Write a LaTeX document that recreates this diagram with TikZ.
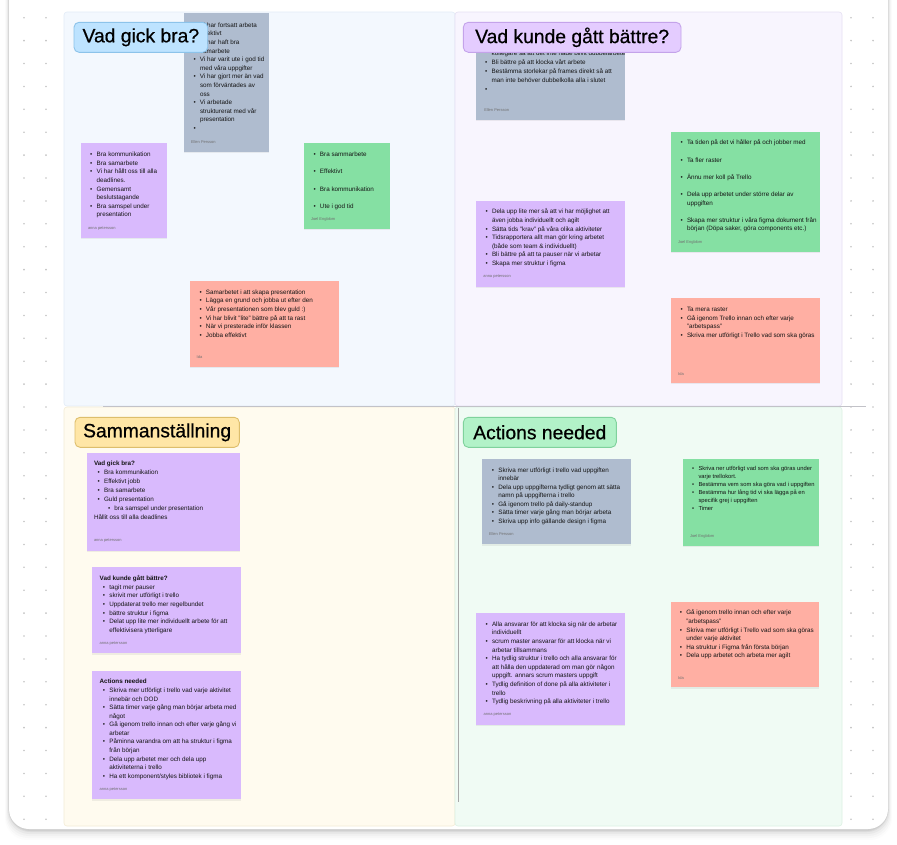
\documentclass[tikz,border=0pt]{standalone}
\usepackage{fontspec}
\setmainfont{Liberation Sans}
\newfontfamily\titlefont[FakeBold=0.6]{Liberation Sans}
\usetikzlibrary{shadows}
\definecolor{cBgTL}{HTML}{F3F8FE}
\definecolor{cBgTR}{HTML}{F8F5FE}
\definecolor{cBgBL}{HTML}{FFFBEF}
\definecolor{cBgBR}{HTML}{F0FBF4}
\definecolor{cBdTL}{HTML}{E2ECF7}
\definecolor{cBdTR}{HTML}{E6E0F3}
\definecolor{cBdBL}{HTML}{F3ECD6}
\definecolor{cBdBR}{HTML}{DCF2E3}
\definecolor{cPurple}{HTML}{D9BAFD}
\definecolor{cGreen}{HTML}{85E0A3}
\definecolor{cGray}{HTML}{AFBCCF}
\definecolor{cSalmon}{HTML}{FFAFA3}
\definecolor{cTblue}{HTML}{BDE3FF}
\definecolor{cTblueB}{HTML}{8CC3EA}
\definecolor{cTpurple}{HTML}{E4CCFF}
\definecolor{cTpurpleB}{HTML}{C4A3EA}
\definecolor{cTyellow}{HTML}{FFE6A6}
\definecolor{cTyellowB}{HTML}{DDBE6C}
\definecolor{cTgreen}{HTML}{B2F2C8}
\definecolor{cTgreenB}{HTML}{7FD29C}
\definecolor{cText}{HTML}{141414}
\definecolor{cAuthor}{HTML}{707070}
\definecolor{cDot}{HTML}{C4C4C4}
\definecolor{cDivider}{HTML}{C2C2C8}
\definecolor{cVline}{HTML}{A8A8A8}
\newcommand\Bu[1]{\strut\makebox[6.5pt][l]{\textbullet}#1}
\newcommand\Co[1]{\strut\hspace*{6.5pt}#1}
\begin{document}
\begin{tikzpicture}[x=1pt,y=-1pt,
  quad/.style={anchor=north west, rectangle, rounded corners=3pt, inner sep=0pt, outer sep=0pt, line width=0.6pt},
  sticky/.style={anchor=north west, rectangle, inner sep=0pt, outer sep=0pt, draw=none,
    drop shadow={shadow xshift=0pt, shadow yshift=-1.2pt, opacity=0.12}},
  ntext/.style={anchor=north west, inner sep=0pt, outer sep=0pt, align=left, text=cText,
    font=\fontsize{6.3}{8.6}\selectfont},
  author/.style={anchor=west, inner sep=0pt, outer sep=0pt, text=cAuthor, font=\fontsize{4}{5}\selectfont},
  titlebox/.style={anchor=north west, rectangle, rounded corners=5pt, inner sep=0pt, outer sep=0pt,
    minimum height=30pt, line width=0.9pt, text=black, font=\titlefont\fontsize{19.3}{21}\selectfont},
  divider/.style={draw=cDivider, line width=1.1pt},
  vline/.style={draw=cVline, line width=0.7pt}
]
\useasboundingbox (0,0) rectangle (897,844);
\fill[white] (0,0) rectangle (897,844);

% card with soft shadow
\foreach \k/\o in {10/0.012,8/0.018,6/0.025,4/0.035,2/0.05,1/0.06}{
  \fill[black, opacity=\o, rounded corners=22pt] ({9-0.4*\k},-30) rectangle ({888+0.4*\k},{830+\k});
}
\fill[white, rounded corners=20pt] (9,-30) rectangle (888,829);

% grid dots
\foreach \r in {0,...,35}{
  \foreach \cx in {24,46,851,873}{
    \fill[cDot] (\cx,{17.7+22.9*\r}) circle (0.9);
  }
}

% quadrants
\node[quad, fill=cBgTL, draw=cBdTL, minimum width=391pt, minimum height=394pt] (qTL) at (64,12) {};
\node[quad, fill=cBgTR, draw=cBdTR, minimum width=387pt, minimum height=394pt] (qTR) at (455,12) {};
\node[quad, fill=cBgBL, draw=cBdBL, minimum width=391pt, minimum height=419pt] (qBL) at (64,407) {};
\node[quad, fill=cBgBR, draw=cBdBR, minimum width=387pt, minimum height=419pt] (qBR) at (455,407) {};

% divider lines
\coordinate (hA) at (103,406.5);
\coordinate (hB) at (866,406.5);
\draw[divider] (hA) -- (hB);
\coordinate (vA) at (458,408);
\coordinate (vB) at (458,802);
\draw[vline] (vA) -- (vB);

% ---------- sticky notes ----------
\node[sticky, fill=cGray,   minimum width=85pt,    minimum height=139pt]  (nTLg)  at (184,13) {};
\node[sticky, fill=cPurple, minimum width=85.7pt,  minimum height=94.4pt] (nTLp)  at (81,143.3) {};
\node[sticky, fill=cGreen,  minimum width=85.7pt,  minimum height=85.7pt] (nTLgr) at (304.3,143.3) {};
\node[sticky, fill=cSalmon, minimum width=149pt,   minimum height=85.7pt] (nTLs)  at (190,281) {};
\node[sticky, fill=cGray,   minimum width=149pt,   minimum height=90pt]   (nTRg)  at (476,30) {};
\node[sticky, fill=cGreen,  minimum width=149pt,   minimum height=120pt]  (nTRgr) at (670.7,132) {};
\node[sticky, fill=cPurple, minimum width=148.7pt, minimum height=85.7pt] (nTRp)  at (476.3,201) {};
\node[sticky, fill=cSalmon, minimum width=149.3pt, minimum height=85.3pt] (nTRs)  at (670.7,297.7) {};
\node[sticky, fill=cPurple, minimum width=153.6pt, minimum height=98pt]   (nBLp1) at (86.7,452.7) {};
\node[sticky, fill=cPurple, minimum width=148.7pt, minimum height=86pt]   (nBLp2) at (92.3,567.3) {};
\node[sticky, fill=cPurple, minimum width=148.7pt, minimum height=128.3pt] (nBLp3) at (92.3,671) {};
\node[sticky, fill=cGray,   minimum width=148.7pt, minimum height=85.6pt] (nBRg)  at (482,458.7) {};
\node[sticky, fill=cGreen,  minimum width=136pt,   minimum height=87pt]   (nBRgr) at (683.3,458.7) {};
\node[sticky, fill=cPurple, minimum width=148.7pt, minimum height=111.7pt] (nBRp) at (476.3,613.3) {};
\node[sticky, fill=cSalmon, minimum width=148.6pt, minimum height=85pt]   (nBRs)  at (670.7,602.3) {};

% ---------- note texts ----------
\node[ntext] (tTLg) at (193.5,21.3) {\Bu{Vi har fortsatt arbeta}\\ \Co{effektivt}\\ \Bu{Vi har haft bra}\\ \Co{samarbete}\\ \Bu{Vi har varit ute i god tid}\\ \Co{med våra uppgifter}\\ \Bu{Vi har gjort mer än vad}\\ \Co{som förväntades av}\\ \Co{oss}\\ \Bu{Vi arbetade}\\ \Co{strukturerat med vår}\\ \Co{presentation}\\ \Bu{}};
\node[author] (aTLg) at (191,141.7) {Ellen Persson};

\node[ntext] (tTLp) at (90.2,150.6) {\Bu{Bra kommunikation}\\ \Bu{Bra samarbete}\\ \Bu{Vi har hållt oss till alla}\\ \Co{deadlines.}\\ \Bu{Gemensamt}\\ \Co{beslutstagande}\\ \Bu{Bra samspel under}\\ \Co{presentation}};
\node[author] (aTLp) at (88,228.3) {anna petersson};

\node[ntext] (tTLgr) at (313.5,150.6) {\Bu{Bra sammarbete}\\ \strut\\ \Bu{Effektivt}\\ \strut\\ \Bu{Bra kommunikation}\\ \strut\\ \Bu{Ute i god tid}};
\node[author] (aTLgr) at (311,219.3) {Joel Engblom};

\node[ntext] (tTLs) at (199.5,288.3) {\Bu{Samarbetet i att skapa presentation}\\ \Bu{Lägga en grund och jobba ut efter den}\\ \Bu{Vår presentationen som blev guld :)}\\ \Bu{Vi har blivit "lite" bättre på att ta rast}\\ \Bu{När vi presterade inför klassen}\\ \Bu{Jobba effektivt}};
\node[author] (aTLs) at (196.7,357.3) {Ida};

\node[ntext, font=\fontsize{6.3}{8.9}\selectfont] (tTRg) at (485.2,49.3) {\Co{kollegare så att det inte hade blivit dubbelarbete}\\ \Bu{Bli bättre på att klocka vårt arbete}\\ \Bu{Bestämma storlekar på frames direkt så att}\\ \Co{man inte behöver dubbelkolla alla i slutet}\\ \Bu{}};
\node[author] (aTRg) at (484.3,110) {Ellen Persson};

\node[ntext] (tTRgr) at (680.5,138.9) {\Bu{Ta tiden på det vi håller på och jobber med}\\ \strut\\ \Bu{Ta fler raster}\\ \strut\\ \Bu{Ännu mer koll på Trello}\\ \strut\\ \Bu{Dela upp arbetet under större delar av}\\ \Co{uppgiften}\\ \strut\\ \Bu{Skapa mer struktur i våra figma dokument från}\\ \Co{början (Döpa saker, göra components etc.)}};
\node[author] (aTRgr) at (678,242.3) {Joel Engblom};

\node[ntext] (tTRp) at (485.5,207.9) {\Bu{Dela upp lite mer så att vi har möjlighet att}\\ \Co{även jobba individuellt och agilt}\\ \Bu{Sätta tids "krav" på våra olika aktiviteter}\\ \Bu{Tidsrapportera allt man gör kring arbetet}\\ \Co{(både som team \& individuellt)}\\ \Bu{Bli bättre på att ta pauser när vi arbetar}\\ \Bu{Skapa mer struktur i figma}};
\node[author] (aTRp) at (483.3,276.7) {anna petersson};

\node[ntext] (tTRs) at (680.5,305.6) {\Bu{Ta mera raster}\\ \Bu{Gå igenom Trello innan och efter varje}\\ \Co{"arbetspass"}\\ \Bu{Skriva mer utförligt i Trello vad som ska göras}};
\node[author] (aTRs) at (678.3,374) {Ida};

\node[ntext, font=\fontsize{6.3}{9}\selectfont] (tBLp1) at (94,459.6) {\strut\textbf{Vad gick bra?}\\ \hspace*{3.6pt}\Bu{Bra kommunikation}\\ \hspace*{3.6pt}\Bu{Effektivt jobb}\\ \hspace*{3.6pt}\Bu{Bra samarbete}\\ \hspace*{3.6pt}\Bu{Guld presentation}\\ \hspace*{14pt}\Bu{bra samspel under presentation}\\ \strut Hållit oss till alla deadlines};
\node[author] (aBLp1) at (94,540.7) {anna petersson};

\node[ntext, font=\fontsize{6.3}{8.67}\selectfont] (tBLp2) at (99.7,574.3) {\strut\textbf{Vad kunde gått bättre?}\\ \hspace*{3.2pt}\Bu{tagit mer pauser}\\ \hspace*{3.2pt}\Bu{skrivit mer utförligt i trello}\\ \hspace*{3.2pt}\Bu{Uppdaterat trello mer regelbundet}\\ \hspace*{3.2pt}\Bu{bättre struktur i figma}\\ \hspace*{3.2pt}\Bu{Delat upp lite mer individuellt arbete för att}\\ \hspace*{3.2pt}\Co{effektivisera ytterligare}};
\node[author] (aBLp2) at (99.7,643.3) {anna petersson};

\node[ntext, font=\fontsize{6.3}{8.58}\selectfont] (tBLp3) at (99.7,677.9) {\strut\textbf{Actions needed}\\ \hspace*{3.2pt}\Bu{Skriva mer utförligt i trello vad varje aktivitet}\\ \hspace*{3.2pt}\Co{innebär och DOD}\\ \hspace*{3.2pt}\Bu{Sätta timer varje gång man börjar arbeta med}\\ \hspace*{3.2pt}\Co{något}\\ \hspace*{3.2pt}\Bu{Gå igenom trello innan och efter varje gång vi}\\ \hspace*{3.2pt}\Co{arbetar}\\ \hspace*{3.2pt}\Bu{Påminna varandra om att ha struktur i figma}\\ \hspace*{3.2pt}\Co{från början}\\ \hspace*{3.2pt}\Bu{Dela upp arbetet mer och dela upp}\\ \hspace*{3.2pt}\Co{aktiviteterna i trello}\\ \hspace*{3.2pt}\Bu{Ha ett komponent/styles bibliotek i figma}};
\node[author] (aBLp3) at (99.7,789.7) {anna petersson};

\node[ntext, font=\fontsize{6.3}{8.5}\selectfont] (tBRg) at (491.8,466.3) {\Bu{Skriva mer utförligt i trello vad uppgiften}\\ \Co{innebär}\\ \Bu{Dela upp uppgifterna tydligt genom att sätta}\\ \Co{namn på uppgifterna i trello}\\ \Bu{Gå igenom trello på daily-standup}\\ \Bu{Sätta timer varje gång man börjar arbeta}\\ \Bu{Skriva upp info gällande design i figma}};
\node[author] (aBRg) at (489,534) {Ellen Persson};

\node[ntext, font=\fontsize{5.8}{7.9}\selectfont] (tBRgr) at (692,465) {\Bu{Skriva ner utförligt vad som ska göras under}\\ \Co{varje trellokort.}\\ \Bu{Bestämma vem som ska göra vad i uppgiften}\\ \Bu{Bestämma hur lång tid vi ska lägga på en}\\ \Co{specifik grej i uppgiften}\\ \Bu{Timer}};
\node[author] (aBRgr) at (690,536.7) {Joel Engblom};

\node[ntext] (tBRp) at (485.5,620.3) {\Bu{Alla ansvarar för att klocka sig när de arbetar}\\ \Co{individuellt}\\ \Bu{scrum master ansvarar för att klocka när vi}\\ \Co{arbetar tillsammans}\\ \Bu{Ha tydlig struktur i trello och alla ansvarar för}\\ \Co{att hålla den uppdaterad om man gör någon}\\ \Co{uppgift. annars scrum masters uppgift}\\ \Bu{Tydlig definition of done på alla aktiviteter i}\\ \Co{trello}\\ \Bu{Tydlig beskrivning på alla aktiviteter i trello}};
\node[author] (aBRp) at (483.7,715) {anna petersson};

\node[ntext] (tBRs) at (679.8,608.9) {\Bu{Gå igenom trello innan och efter varje}\\ \Co{"arbetspass"}\\ \Bu{Skriva mer utförligt i Trello vad som ska göras}\\ \Co{under varje aktivitet}\\ \Bu{Ha struktur i Figma från första början}\\ \Bu{Dela upp arbetet och arbeta mer agilt}};
\node[author] (aBRs) at (678.3,677.7) {Ida};

% ---------- titles ----------
\node[titlebox, fill=cTblue,   draw=cTblueB,   minimum width=133.7pt] (ttTL) at (74,22.3) {Vad gick bra?};
\node[titlebox, fill=cTpurple, draw=cTpurpleB, minimum width=217.7pt] (ttTR) at (463.3,22.3) {Vad kunde gått bättre?};
\node[titlebox, fill=cTyellow, draw=cTyellowB, minimum width=164.3pt] (ttBL) at (75,417.3) {Sammanställning};
\node[titlebox, fill=cTgreen,  draw=cTgreenB,  minimum width=153pt]   (ttBR) at (463.3,417.3) {Actions needed};
\end{tikzpicture}
\end{document}
